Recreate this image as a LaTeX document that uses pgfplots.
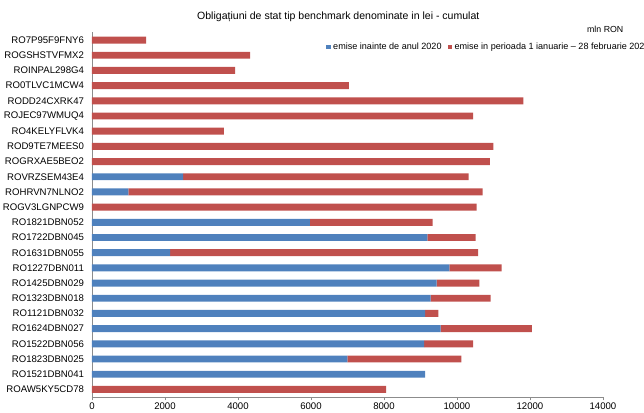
\documentclass[border=0pt]{standalone}
\usepackage{fontspec}
\setmainfont{Liberation Sans}
\usepackage{pgfplots}
\pgfplotsset{compat=1.18}
\usetikzlibrary{calc}

\definecolor{blueS}{HTML}{4F81BD}
\definecolor{redS}{HTML}{C0504D}
\definecolor{axgray}{HTML}{8C8C8C}

\begin{document}
\begin{tikzpicture}
\begin{axis}[
    xbar stacked,
    scale only axis,
    width=383.25pt, height=273.4pt,
    bar width=5.2pt,
    xmin=0, xmax=14000,
    ymin=-0.5, ymax=23.5,
    xtick={0,2000,...,14000},
    ytick={0,...,23},
    yticklabels={ROAW5KY5CD78, RO1521DBN041, RO1823DBN025, RO1522DBN056,
        RO1624DBN027, RO1121DBN032, RO1323DBN018, RO1425DBN029,
        RO1227DBN011, RO1631DBN055, RO1722DBN045, RO1821DBN052,
        ROGV3LGNPCW9, ROHRVN7NLNO2, ROVRZSEM43E4, ROGRXAE5BEO2,
        ROD9TE7MEES0, RO4KELYFLVK4, ROJEC97WMUQ4, RODD24CXRK47,
        RO0TLVC1MCW4, ROINPAL298G4, ROGSHSTVFMX2, RO7P95F9FNY6},
    axis lines*=left,
    axis line style={axgray, line width=0.6pt},
    x tick style={axgray, line width=0.6pt},
    tick align=outside,
    major tick length=2.5pt,
    y tick style={draw=none},
    scaled x ticks=false,
    /pgf/number format/assume math mode=true,
    /pgf/number format/set thousands separator={},
    font=\fontsize{7.2}{8.5}\selectfont,
    tick label style={font=\fontsize{7.2}{8.5}\selectfont},
    xticklabel style={yshift=1.5pt},
    legend columns=2,
    legend cell align=left,
    legend style={draw=none, fill=none, at={(rel axis cs:0.458,0.96)}, anchor=west,
        font=\fontsize{6.8}{8}\selectfont, inner sep=0pt,
        /tikz/every even column/.append style={column sep=2.5pt}},
    legend image code/.code={\fill[#1] (0pt,-1.6pt) rectangle (3.2pt,1.6pt);},
    clip=false,
]
\addplot[fill=blueS, draw=none] coordinates {
    (0,0) (9130,1) (7000,2) (9100,3) (9550,4) (9130,5) (9280,6) (9440,7)
    (9790,8) (2140,9) (9190,10) (5970,11) (0,12) (1000,13) (2500,14) (0,15)
    (0,16) (0,17) (0,18) (0,19) (0,20) (0,21) (0,22) (0,23)};
\addplot[fill=redS, draw=none] coordinates {
    (8060,0) (0,1) (3120,2) (1340,3) (2500,4) (360,5) (1640,6) (1170,7)
    (1430,8) (8440,9) (1320,10) (3360,11) (10540,12) (9700,13) (7820,14) (10900,15)
    (11000,16) (3610,17) (10440,18) (11820,19) (7040,20) (3920,21) (4330,22) (1480,23)};
\legend{emise inainte de anul 2020, emise in perioada 1 ianuarie – 28 februarie 2020}
\coordinate (ll) at (rel axis cs:0,0);
\node[font=\fontsize{7.9}{9.5}\selectfont] at (rel axis cs:0.482,1.042) {Obligațiuni de stat tip benchmark denominate in lei - cumulat};
\node[anchor=east, font=\fontsize{6.6}{8}\selectfont] at (rel axis cs:1.049,1.009) {mln RON};
\end{axis}
\pgfresetboundingbox
\path[use as bounding box] ($(ll)+(-69pt,-11.25pt)$) rectangle +(483pt,309pt);
\end{tikzpicture}
\end{document}
